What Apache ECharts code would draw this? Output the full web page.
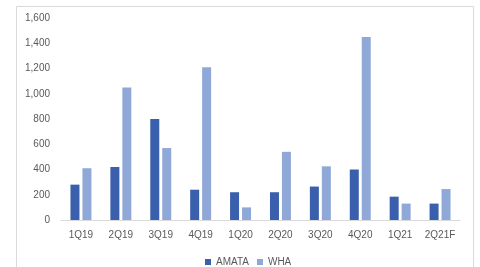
<!DOCTYPE html>
<html><head><meta charset="utf-8">
<script src="https://cdn.jsdelivr.net/npm/echarts@6/dist/echarts.min.js"></script>
<style>html,body{margin:0;padding:0;background:#fff}#c{width:480px;height:267px}</style>
</head><body><div id="c"></div>
<script>
const categories = ['1Q19','2Q19','3Q19','4Q19','1Q20','2Q20','3Q20','4Q20','1Q21','2Q21F'];
const amata = [280, 420, 800, 240, 220, 220, 265, 400, 185, 130];
const wha = [410, 1050, 570, 1210, 100, 540, 425, 1450, 130, 245];
const yMin = 0, yMax = 1600, yStep = 200;

const chart = echarts.init(document.getElementById('c'), null, {renderer:'canvas'});
const txt = '#595959';
chart.setOption({
  animation: false,
  graphic: [{type:'rect', shape:{x:16.5, y:6.5, width:457, height:270}, style:{fill:'none', stroke:'#D9D9D9', lineWidth:1}, silent:true}],
  grid: {left:61, right:20, top:18, bottom:47, containLabel:false},
  legend: {top:252, left:200, itemWidth:6, itemHeight:6, itemGap:8, icon:'rect',
    textStyle:{color:txt, fontSize:10, fontFamily:'Liberation Sans'}, data:['AMATA','WHA']},
  xAxis: {type:'category', data:categories,
    axisLine:{lineStyle:{color:'#D9D9D9'}}, axisTick:{show:false},
    axisLabel:{color:txt, fontSize:10, fontFamily:'Liberation Sans', margin:10}},
  yAxis: {type:'value', min:yMin, max:yMax, interval:yStep,
    axisLine:{show:false}, axisTick:{show:false}, splitLine:{show:false},
    axisLabel:{color:txt, fontSize:10, fontFamily:'Liberation Sans', margin:11,
      formatter: v => v.toLocaleString('en-US')}},
  series: [
    {name:'AMATA', type:'bar', data:amata, barWidth:9, barGap:'33%', itemStyle:{color:'#3A5FAD'}},
    {name:'WHA', type:'bar', data:wha, barWidth:9, itemStyle:{color:'#8FA8D8'}}
  ]
});
</script></body></html>
